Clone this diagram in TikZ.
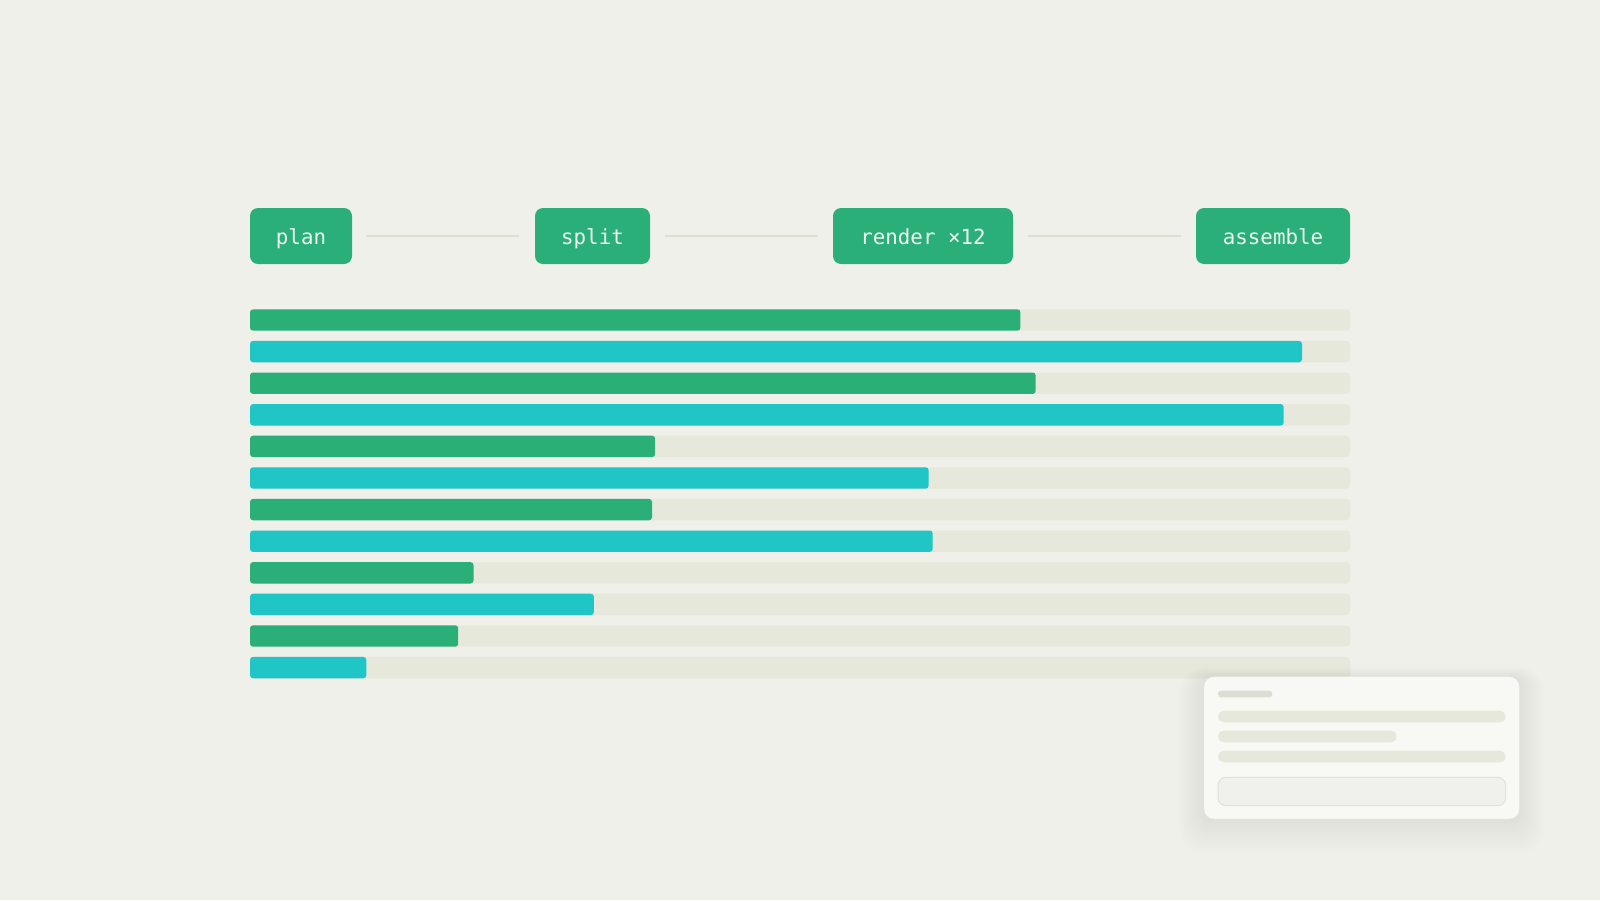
\documentclass[tikz,border=0pt]{standalone}
\usepackage{fontspec}
\newfontfamily\monofont{DejaVu Sans Mono}
\definecolor{bg}{HTML}{EFF0EA}
\definecolor{grn}{HTML}{2BAF78}
\definecolor{cyn}{HTML}{20C5C6}
\definecolor{track}{HTML}{E6E8DB}
\definecolor{conn}{HTML}{E0DED3}
\definecolor{txt}{HTML}{EEF6EE}
\definecolor{card}{HTML}{F8F9F4}
\definecolor{cline}{HTML}{E6E8DC}
\definecolor{ctitle}{HTML}{DCDED5}
\definecolor{inbox}{HTML}{F0F1EC}
\definecolor{inborder}{HTML}{E0E1DA}
\tikzset{
  stage/.style={fill=grn, rounded corners=8pt, minimum height=56pt, inner sep=0pt,
    text height=16pt, text depth=0pt,
    text=txt, font=\monofont\fontsize{20.8}{24}\selectfont},
  link/.style={draw=conn, line width=1.6pt},
}
\begin{document}
\begin{tikzpicture}[x=1pt,y=-1pt]
\useasboundingbox (0,0) rectangle (1600,900);
\fill[bg] (0,0) rectangle (1600,900);
% stages
\node[stage, minimum width=102pt] (plan) at (301,236) {plan};
\node[stage, minimum width=115pt] (split) at (592.5,236) {split};
\node[stage, minimum width=180pt] (render) at (923,236) {render ×12};
\node[stage, minimum width=154pt] (assemble) at (1273,236) {assemble};
\draw[link, shorten <=14pt, shorten >=16pt] (plan) -- (split);
\draw[link, shorten <=15pt, shorten >=15pt] (split) -- (render);
\draw[link, shorten <=15pt, shorten >=15pt] (render) -- (assemble);
% bars
\foreach \e [count=\i from 0] in {1020.4,1302,1035.7,1283.7,655.1,928.6,652,932.7,473.5,593.9,458.2,366.3} {
  \pgfmathsetmacro{\yt}{309.3+31.6*\i}
  \pgfmathtruncatemacro{\odd}{mod(\i,2)}
  \fill[track, rounded corners=4pt] (250,\yt) rectangle (1350,\yt+21.4);
  \ifnum\odd=0
    \fill[grn, rounded corners=3pt] (250,\yt) rectangle (\e,\yt+21.4);
  \else
    \fill[cyn, rounded corners=3pt] (250,\yt) rectangle (\e,\yt+21.4);
  \fi
}
% card shadow
\foreach \k in {1,...,16} {
  \fill[black!60!olive, opacity=0.005, rounded corners=10pt+\k pt]
    (1204-\k*1.6,676.7-\k*0.6) rectangle (1519.3+\k*1.6,819+\k*2.2);
}
% card
\fill[card, rounded corners=10pt] (1204,676.7) rectangle (1519.3,819);
\draw[white!90!black, opacity=0.4, line width=0.6pt, rounded corners=10pt] (1204,676.7) rectangle (1519.3,819);
\fill[ctitle, rounded corners=3pt] (1218,690.7) rectangle (1272.3,697.3);
\fill[cline, rounded corners=5.5pt] (1218,710.7) rectangle (1505.7,722.3);
\fill[cline, rounded corners=5.5pt] (1218,730.7) rectangle (1396.7,742.3);
\fill[cline, rounded corners=5.5pt] (1218,750.7) rectangle (1505.7,762.3);
\draw[inborder, fill=inbox, line width=1pt, rounded corners=8pt] (1218,777.3) rectangle (1505.7,805.7);
\end{tikzpicture}
\end{document}
